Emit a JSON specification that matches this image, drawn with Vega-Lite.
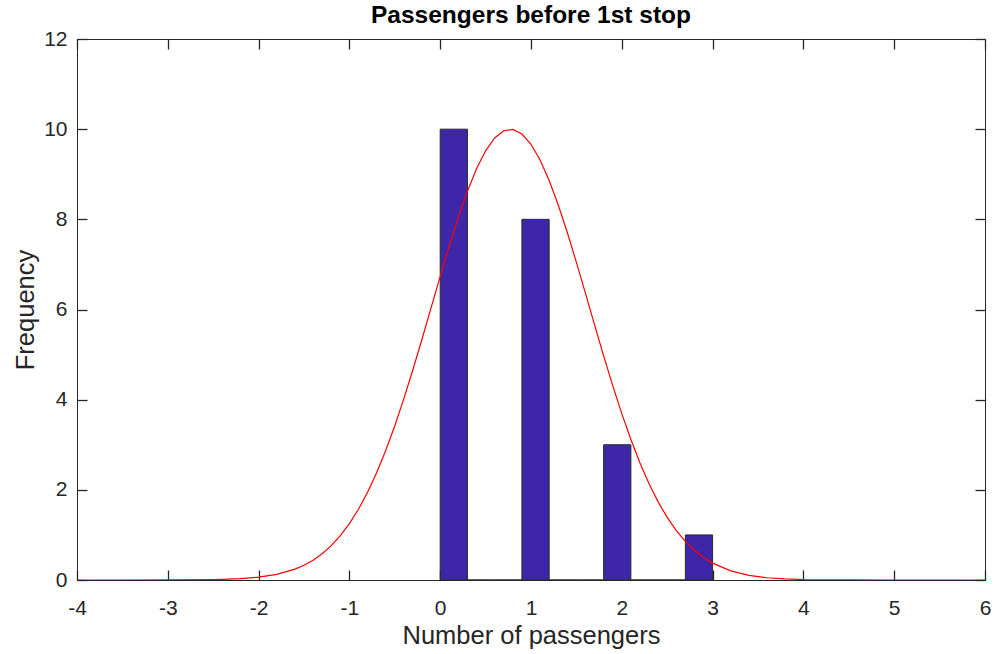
{
  "$schema": "https://vega.github.io/schema/vega-lite/v6.json",
  "autosize": "none",
  "width": 908,
  "height": 541,
  "padding": {"left": 77, "top": 39, "right": 10, "bottom": 74},
  "background": "white",
  "title": {
    "text": "Passengers before 1st stop",
    "font": "Liberation Sans",
    "fontSize": 24.5,
    "fontWeight": "bold",
    "color": "#000000",
    "offset": 0
  },
  "config": {
    "view": {"stroke": "#262626", "strokeWidth": 1},
    "axis": {
      "grid": false,
      "domain": false,
      "tickColor": "#262626",
      "tickWidth": 1.3,
      "tickSize": -10,
      "labelFlush": false,
      "labelFont": "Liberation Sans",
      "labelColor": "#262626",
      "labelExpr": "datum.value < 0 ? '-' + abs(datum.value) : '' + datum.value",
      "titleFont": "Liberation Sans",
      "titleFontSize": 25.5,
      "titleFontWeight": "normal",
      "titleColor": "#262626"
    }
  },
  "datasets": {
    "bins": [
      {"start": 0.0, "end": 0.3, "count": 10},
      {"start": 0.3, "end": 0.6, "count": 0},
      {"start": 0.6, "end": 0.9, "count": 0},
      {"start": 0.9, "end": 1.2, "count": 8},
      {"start": 1.2, "end": 1.5, "count": 0},
      {"start": 1.5, "end": 1.8, "count": 0},
      {"start": 1.8, "end": 2.1, "count": 3},
      {"start": 2.1, "end": 2.4, "count": 0},
      {"start": 2.4, "end": 2.7, "count": 0},
      {"start": 2.7, "end": 3.0, "count": 1}
    ],
    "fit": [
      {"x": -4.0, "y": 0.0},
      {"x": -3.5, "y": 0.0001},
      {"x": -3.0, "y": 0.0008},
      {"x": -2.5, "y": 0.008},
      {"x": -2.4, "y": 0.013},
      {"x": -2.2, "y": 0.029},
      {"x": -2.0, "y": 0.062},
      {"x": -1.8, "y": 0.125},
      {"x": -1.6, "y": 0.241},
      {"x": -1.5, "y": 0.327},
      {"x": -1.4, "y": 0.44},
      {"x": -1.3, "y": 0.582},
      {"x": -1.2, "y": 0.761},
      {"x": -1.1, "y": 0.982},
      {"x": -1.0, "y": 1.249},
      {"x": -0.9, "y": 1.569},
      {"x": -0.8, "y": 1.945},
      {"x": -0.7, "y": 2.38},
      {"x": -0.6, "y": 2.873},
      {"x": -0.5, "y": 3.423},
      {"x": -0.4, "y": 4.024},
      {"x": -0.3, "y": 4.669},
      {"x": -0.2, "y": 5.346},
      {"x": -0.1, "y": 6.04},
      {"x": 0.0, "y": 6.735},
      {"x": 0.1, "y": 7.412},
      {"x": 0.2, "y": 8.048},
      {"x": 0.3, "y": 8.625},
      {"x": 0.4, "y": 9.122},
      {"x": 0.5, "y": 9.52},
      {"x": 0.6, "y": 9.805},
      {"x": 0.7, "y": 9.965},
      {"x": 0.8, "y": 9.995},
      {"x": 0.9, "y": 9.893},
      {"x": 1.0, "y": 9.664},
      {"x": 1.1, "y": 9.316},
      {"x": 1.2, "y": 8.861},
      {"x": 1.3, "y": 8.319},
      {"x": 1.4, "y": 7.707},
      {"x": 1.5, "y": 7.046},
      {"x": 1.6, "y": 6.357},
      {"x": 1.7, "y": 5.66},
      {"x": 1.8, "y": 4.973},
      {"x": 1.9, "y": 4.312},
      {"x": 2.0, "y": 3.69},
      {"x": 2.1, "y": 3.116},
      {"x": 2.2, "y": 2.597},
      {"x": 2.3, "y": 2.135},
      {"x": 2.4, "y": 1.733},
      {"x": 2.5, "y": 1.388},
      {"x": 2.6, "y": 1.097},
      {"x": 2.7, "y": 0.856},
      {"x": 2.8, "y": 0.658},
      {"x": 2.9, "y": 0.5},
      {"x": 3.0, "y": 0.375},
      {"x": 3.2, "y": 0.202},
      {"x": 3.4, "y": 0.104},
      {"x": 3.6, "y": 0.05},
      {"x": 3.8, "y": 0.023},
      {"x": 4.0, "y": 0.01},
      {"x": 4.5, "y": 0.001},
      {"x": 5.0, "y": 0.0},
      {"x": 5.5, "y": 0.0},
      {"x": 6.0, "y": 0.0}
    ]
  },
  "layer": [
    {
      "data": {"name": "bins"},
      "mark": {"type": "rect", "fill": "#3e26a8", "stroke": "#2b2b2b", "strokeWidth": 1},
      "encoding": {
        "x": {
          "field": "start",
          "type": "quantitative",
          "scale": {"domain": [-4, 6], "nice": false, "zero": false},
          "axis": {
            "orient": "bottom",
            "values": [-4, -3, -2, -1, 0, 1, 2, 3, 4, 5, 6],
            "title": "Number of passengers",
            "labelFontSize": 21,
            "labelPadding": 27,
            "titlePadding": 5
          }
        },
        "x2": {"field": "end"},
        "y": {
          "field": "count",
          "type": "quantitative",
          "scale": {"domain": [0, 12], "nice": false},
          "axis": {
            "orient": "left",
            "values": [0, 2, 4, 6, 8, 10, 12],
            "title": "Frequency",
            "labelFontSize": 21,
            "labelPadding": 20,
            "titlePadding": 5
          }
        },
        "y2": {"datum": 0}
      }
    },
    {
      "data": {"name": "fit"},
      "mark": {"type": "line", "color": "#ff0000", "strokeWidth": 1.2, "clip": true},
      "encoding": {
        "x": {
          "field": "x",
          "type": "quantitative",
          "axis": {"orient": "top", "values": [-4, -3, -2, -1, 0, 1, 2, 3, 4, 5, 6], "labels": false, "title": null}
        },
        "y": {
          "field": "y",
          "type": "quantitative",
          "axis": {"orient": "right", "values": [0, 2, 4, 6, 8, 10, 12], "labels": false, "title": null}
        }
      }
    }
  ],
  "resolve": {"axis": {"x": "independent", "y": "independent"}}
}
